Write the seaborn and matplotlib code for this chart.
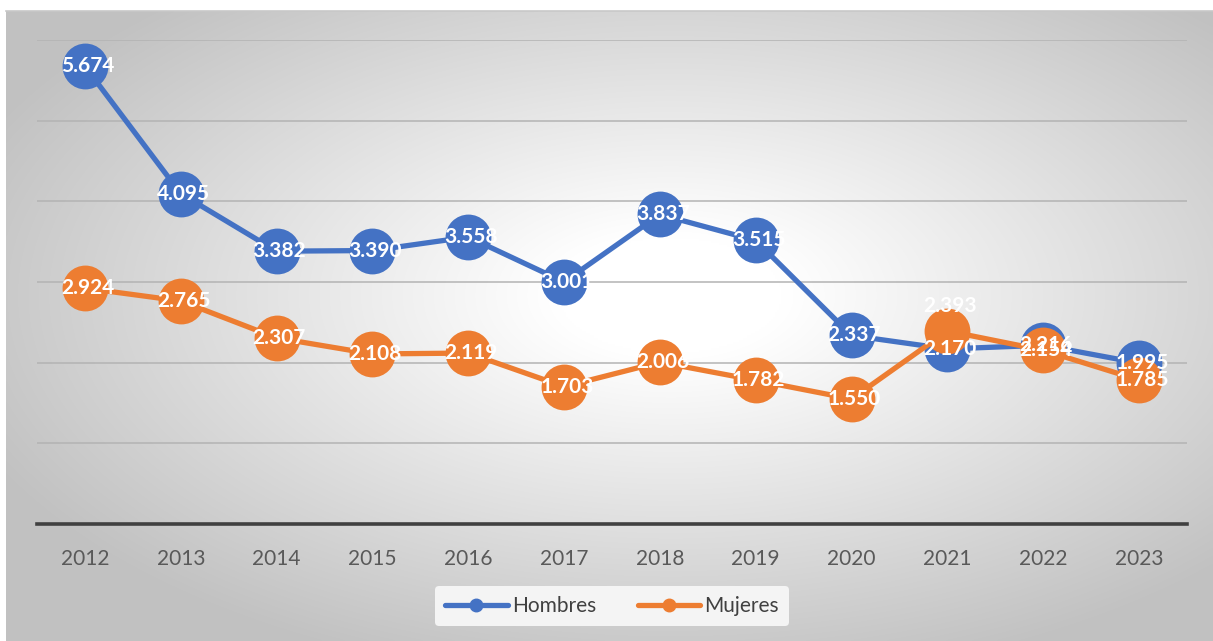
import numpy as np
import pandas as pd
import matplotlib
matplotlib.use("Agg")
import matplotlib.pyplot as plt
from matplotlib.lines import Line2D
import seaborn as sns

years = ["2012", "2013", "2014", "2015", "2016", "2017", "2018", "2019", "2020", "2021", "2022", "2023"]
hombres = [5.674, 4.095, 3.382, 3.390, 3.558, 3.001, 3.837, 3.515, 2.337, 2.170, 2.216, 1.995]
mujeres = [2.924, 2.765, 2.307, 2.108, 2.119, 1.703, 2.006, 1.782, 1.550, 2.393, 2.154, 1.785]
series_names = ["Hombres", "Mujeres"]

colors = {"Hombres": "#4472C4", "Mujeres": "#ED7D31"}

df = pd.DataFrame({
    "idx": list(range(len(years))) * 2,
    "valor": hombres + mujeres,
    "serie": [series_names[0]] * len(years) + [series_names[1]] * len(years),
})

sns.set_theme(style="white")
plt.rcParams["font.family"] = ["Lato", "DejaVu Sans"]

W, H = 1213, 641
fig = plt.figure(figsize=(W / 100, H / 100), dpi=100, facecolor="white")

# chart-area background with radial gradient
bg = fig.add_axes([6 / W, 0, 1 - 6 / W, 1 - 11 / H], zorder=0)
gy, gx = np.mgrid[0:300, 0:600]
cx, cy = 0.55, 0.45
r = np.sqrt(((gx / 600 - cx) / 0.62) ** 2 + ((gy / 300 - cy) / 0.62) ** 2)
t = np.clip((r - 0.15) / 0.85, 0, 1)
shade = 1.0 - 0.24 * t
img = np.dstack([shade, shade, shade])
bg.imshow(img, aspect="auto", extent=[0, 1, 0, 1], origin="upper", interpolation="bilinear")
bg.set_xlim(0, 1)
bg.set_ylim(0, 1)
for s in ["left", "right", "bottom"]:
    bg.spines[s].set_visible(False)
bg.spines["top"].set_color("#c8c8c8")
bg.spines["top"].set_linewidth(1.2)
bg.set_xticks([])
bg.set_yticks([])

ax = fig.add_axes([37 / W, 1 - 524 / H, (1187 - 37) / W, (524 - 40) / H], zorder=1)
ax.patch.set_alpha(0)

sns.lineplot(data=df, x="idx", y="valor", hue="serie", palette=colors, marker="o",
             markersize=33, markeredgewidth=0, linewidth=3.8, ax=ax, legend=False, zorder=3)

ax.set_xlim(-0.5, len(years) - 0.5)
ax.set_ylim(0, 6)
ax.set_yticks(range(1, 7))
ax.yaxis.grid(True, color="#b3b3b3", linewidth=1.1)
ax.set_axisbelow(True)
ax.tick_params(axis="y", left=False, labelleft=False)
ax.set_xticks(range(len(years)))
ax.set_xticklabels(years, fontsize=15, color="#595959")
ax.tick_params(axis="x", bottom=False, pad=12)
ax.set_xlabel("")
ax.set_ylabel("")
for s in ["left", "right", "top"]:
    ax.spines[s].set_visible(False)
ax.spines["bottom"].set_color("#404040")
ax.spines["bottom"].set_linewidth(2.6)

# data labels
for name, vals in zip(series_names, [hombres, mujeres]):
    for i, v in enumerate(vals):
        dy = 0
        if name == "Mujeres" and i == 9:
            dy = 18
        ax.annotate(f"{v:.3f}", (i, v), xytext=(2, dy), textcoords="offset points",
                    ha="center", va="center", fontsize=15, fontweight="bold",
                    color="white", zorder=5)

handles = [Line2D([0], [0], color=colors[n], lw=3.8, marker="o", markersize=9) for n in series_names]
leg = fig.legend(handles, series_names, loc="center", bbox_to_anchor=(612 / W, 1 - 606 / H),
                 ncol=2, frameon=True, fontsize=15, handlelength=3.0, columnspacing=2.0,
                 handletextpad=0.2, borderpad=0.5)
leg.get_frame().set_facecolor("#f4f4f4")
leg.get_frame().set_edgecolor("none")
leg.get_frame().set_alpha(1)
for txt in leg.get_texts():
    txt.set_color("#404040")

fig.savefig("out.png", dpi=100, facecolor="white")
